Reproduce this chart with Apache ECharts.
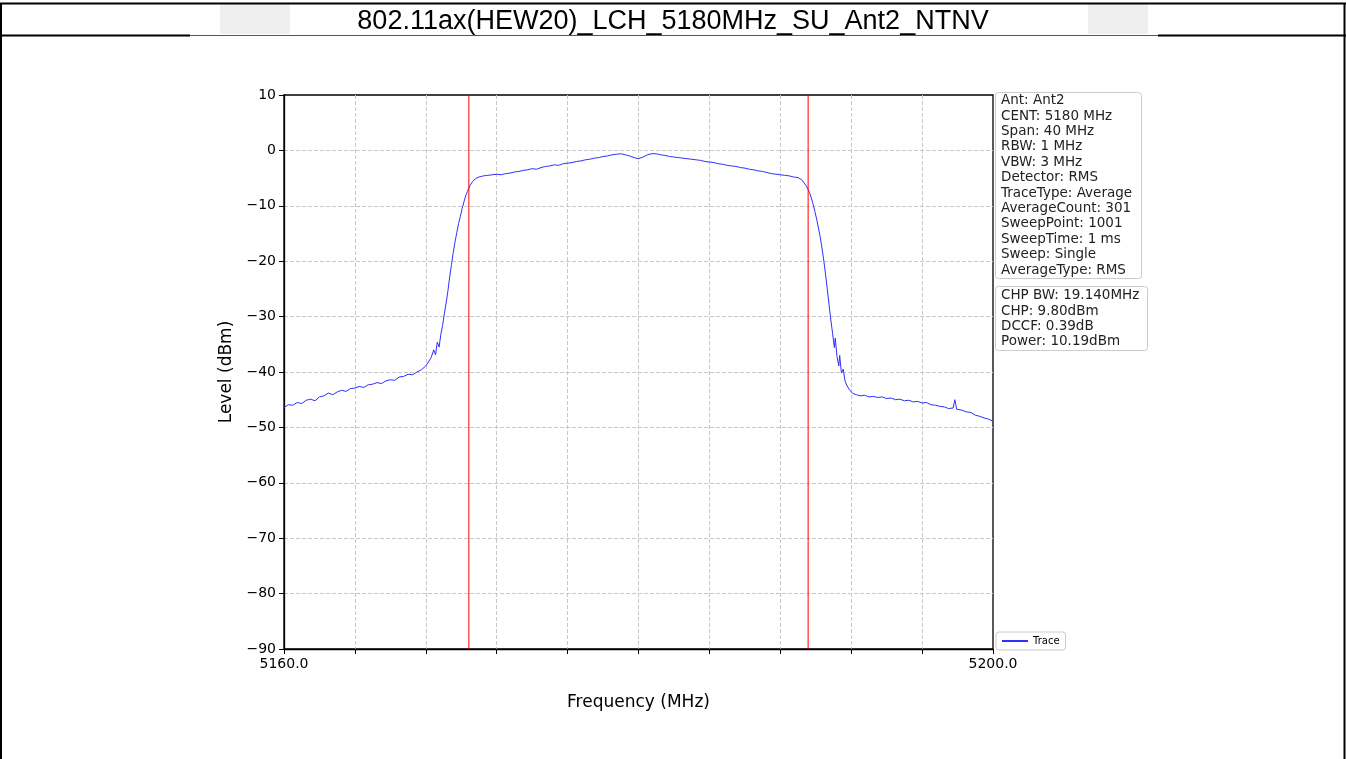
<!DOCTYPE html>
<html><head><meta charset="utf-8">
<script src="https://cdn.jsdelivr.net/npm/echarts@6/dist/echarts.min.js"></script>
<style>html,body{margin:0;padding:0;background:#fff;}#c{width:1346px;height:759px;}</style>
</head><body><div id="c"></div>
<script>
const titleText = '802.11ax(HEW20)_LCH_5180MHz_SU_Ant2_NTNV';
const xAxisName = 'Frequency (MHz)';
const yAxisName = 'Level (dBm)';
const legendName = 'Trace';
const freqMin = 5160, freqMax = 5200, freqStep = 4;
const levelMin = -90, levelMax = 10, levelStep = 10;
const freqLabelValues = [5160, 5200];
const channelEdges = [5170.43, 5189.57];
const settingLines = ['Ant: Ant2','CENT: 5180 MHz','Span: 40 MHz','RBW: 1 MHz','VBW: 3 MHz','Detector: RMS','TraceType: Average','AverageCount: 301','SweepPoint: 1001','SweepTime: 1 ms','Sweep: Single','AverageType: RMS'];
const powerLines = ['CHP BW: 19.140MHz','CHP: 9.80dBm','DCCF: 0.39dB','Power: 10.19dBm'];
const tracePoints = [
[5160.00,-46.4],[5160.25,-45.9],[5160.50,-46.0],[5160.75,-45.5],[5161.00,-45.7],[5161.25,-45.1],[5161.50,-44.9],[5161.75,-45.2],
[5162.00,-44.5],[5162.25,-44.3],[5162.50,-43.8],[5162.75,-44.1],[5163.00,-43.6],[5163.25,-43.3],[5163.50,-43.5],[5163.75,-43.0],
[5164.00,-42.9],[5164.25,-42.6],[5164.50,-42.8],[5164.75,-42.3],[5165.00,-42.2],[5165.25,-41.9],[5165.50,-42.1],[5165.75,-41.6],
[5166.00,-41.4],[5166.25,-41.5],[5166.50,-40.9],[5166.75,-40.8],[5167.00,-40.4],[5167.25,-40.5],[5167.50,-40.0],[5167.75,-39.6],
[5168.00,-38.9],[5168.15,-38.2],[5168.30,-37.4],[5168.45,-36.0],[5168.55,-36.9],[5168.65,-34.6],[5168.75,-35.5],[5168.85,-33.2],
[5168.95,-31.6],[5169.05,-29.4],[5169.15,-27.5],[5169.25,-25.3],[5169.35,-22.8],[5169.45,-20.6],[5169.55,-18.4],[5169.65,-16.5],
[5169.75,-14.8],[5169.85,-13.2],[5169.95,-11.9],[5170.05,-10.5],[5170.15,-9.3],[5170.25,-8.2],[5170.35,-7.4],[5170.50,-6.3],
[5170.65,-5.6],[5170.80,-5.1],[5171.00,-4.8],[5171.25,-4.6],[5171.50,-4.5],[5171.75,-4.4],
[5172.00,-4.3],[5172.25,-4.4],[5172.50,-4.2],[5172.75,-4.1],[5173.00,-3.9],[5173.25,-3.8],[5173.50,-3.6],[5173.75,-3.5],
[5174.00,-3.3],[5174.25,-3.4],[5174.50,-3.1],[5174.75,-2.9],[5175.00,-2.8],[5175.25,-2.6],[5175.50,-2.7],[5175.75,-2.4],
[5176.00,-2.3],[5176.25,-2.2],[5176.50,-2.0],[5176.75,-1.9],[5177.00,-1.7],[5177.25,-1.6],[5177.50,-1.4],[5177.75,-1.3],
[5178.00,-1.1],[5178.25,-1.0],[5178.50,-0.8],[5178.75,-0.7],[5179.00,-0.6],[5179.25,-0.8],[5179.50,-1.0],[5179.75,-1.3],
[5180.00,-1.5],[5180.25,-1.2],[5180.50,-0.8],[5180.75,-0.6],[5181.00,-0.6],[5181.25,-0.8],[5181.50,-0.9],[5181.75,-1.1],
[5182.00,-1.2],[5182.25,-1.3],[5182.50,-1.4],[5182.75,-1.5],[5183.00,-1.6],[5183.25,-1.7],[5183.50,-1.8],[5183.75,-2.0],
[5184.00,-2.1],[5184.25,-2.2],[5184.50,-2.4],[5184.75,-2.5],[5185.00,-2.7],[5185.25,-2.8],[5185.50,-2.9],[5185.75,-3.1],
[5186.00,-3.2],[5186.25,-3.4],[5186.50,-3.5],[5186.75,-3.7],[5187.00,-3.8],[5187.25,-4.0],[5187.50,-4.2],[5187.75,-4.3],
[5188.00,-4.4],[5188.25,-4.5],[5188.50,-4.6],[5188.75,-4.8],[5189.00,-4.9],[5189.20,-5.3],[5189.35,-5.9],[5189.50,-6.6],
[5189.65,-7.6],[5189.75,-8.6],[5189.85,-9.7],[5189.95,-11.0],[5190.05,-12.4],[5190.15,-14.0],[5190.25,-15.6],[5190.35,-17.6],
[5190.45,-19.8],[5190.55,-22.3],[5190.65,-25.0],[5190.75,-27.8],[5190.85,-30.6],[5190.95,-33.0],[5191.05,-35.6],[5191.10,-33.9],
[5191.20,-37.2],[5191.30,-38.9],[5191.35,-37.0],[5191.45,-40.2],[5191.55,-39.5],[5191.65,-41.6],[5191.75,-42.4],[5191.90,-43.2],
[5192.10,-43.9],[5192.30,-44.1],[5192.50,-44.3],[5192.75,-44.2],[5193.00,-44.5],[5193.25,-44.4],[5193.50,-44.6],[5193.75,-44.5],
[5194.00,-44.8],[5194.25,-44.7],[5194.50,-45.0],[5194.75,-44.9],[5195.00,-45.2],[5195.25,-45.1],[5195.50,-45.4],[5195.75,-45.3],
[5196.00,-45.6],[5196.25,-45.5],[5196.50,-45.9],[5196.75,-46.0],[5197.00,-46.2],[5197.25,-46.3],[5197.50,-46.6],[5197.75,-46.5],
[5197.85,-45.0],[5197.95,-46.7],[5198.25,-46.9],[5198.50,-47.2],[5198.75,-47.3],[5199.00,-47.8],[5199.25,-48.0],[5199.50,-48.3],
[5199.75,-48.5],[5200.00,-48.9]
];

const chart = echarts.init(document.getElementById('c'), null, {renderer: 'canvas'});
const tickFont = 'DejaVu Sans';
const gridLineStyle = {color: '#c8c8c8', type: [4, 2], width: 1};
const edgeSeries = channelEdges.map((edge, i) => ({
  name: 'edge' + i, type: 'line', data: [[edge, levelMin], [edge, levelMax]],
  showSymbol: false, symbol: 'none', silent: true, z: 3,
  lineStyle: {color: '#ff0000', width: 1, type: 'solid'}, itemStyle: {color: '#ff0000'}
}));
const option = {
  animation: false,
  backgroundColor: '#fff',
  title: {
    text: titleText, left: 'center', top: 3,
    textStyle: {fontFamily: 'Liberation Sans', fontSize: 27, fontWeight: 'normal', color: '#000'}
  },
  legend: {
    data: [{name: legendName, icon: 'rect'}],
    left: 996, top: 632, orient: 'vertical',
    itemWidth: 26, itemHeight: 2, padding: [4, 6, 4, 6],
    borderColor: '#cccccc', borderWidth: 1, borderRadius: 3, backgroundColor: '#fff',
    textStyle: {fontFamily: tickFont, fontSize: 10, color: '#000'}
  },
  grid: {left: 284, right: 353, top: 95, bottom: 110, show: true, borderColor: '#000', borderWidth: 1.3, containLabel: false},
  xAxis: {
    type: 'value', min: freqMin, max: freqMax, interval: freqStep,
    name: xAxisName, nameLocation: 'middle', nameGap: 45,
    nameTextStyle: {fontFamily: tickFont, fontSize: 17, color: '#000'},
    axisLine: {show: true, onZero: false, lineStyle: {color: '#000', width: 1.3}},
    axisTick: {show: true, length: 5, lineStyle: {color: '#000', width: 1}},
    axisLabel: {
      show: true, margin: 8, fontFamily: tickFont, fontSize: 14, color: '#000',
      showMinLabel: true, showMaxLabel: true,
      formatter: v => freqLabelValues.some(f => Math.abs(f - v) < 1e-6) ? v.toFixed(1) : ''
    },
    splitLine: {show: true, showMinLine: false, showMaxLine: false, lineStyle: gridLineStyle}
  },
  yAxis: {
    type: 'value', min: levelMin, max: levelMax, interval: levelStep,
    name: yAxisName, nameLocation: 'middle', nameGap: 49, nameRotate: 90,
    nameTextStyle: {fontFamily: tickFont, fontSize: 17, color: '#000'},
    axisLine: {show: true, onZero: false, lineStyle: {color: '#000', width: 1.3}},
    axisTick: {show: true, length: 5, lineStyle: {color: '#000', width: 1}},
    axisLabel: {
      margin: 8, fontFamily: tickFont, fontSize: 14, color: '#000',
      formatter: v => String(v).replace('-', '\u2212')
    },
    splitLine: {show: true, showMinLine: false, showMaxLine: false, lineStyle: gridLineStyle}
  },
  series: [{
    name: legendName, type: 'line', data: tracePoints, showSymbol: false, symbol: 'none', z: 2,
    lineStyle: {color: '#3030ff', width: 1}, itemStyle: {color: '#3030ff'}
  }].concat(edgeSeries),
  graphic: [
    {type: 'rect', shape: {x: 220, y: 4, width: 70, height: 30}, style: {fill: '#efefef'}, z: -1},
    {type: 'rect', shape: {x: 1088, y: 4, width: 60, height: 30}, style: {fill: '#efefef'}, z: -1},
    {type: 'line', shape: {x1: 0, y1: 3.5, x2: 1346, y2: 3.5}, style: {stroke: '#000', lineWidth: 2}},
    {type: 'line', shape: {x1: 0, y1: 35.5, x2: 190, y2: 35.5}, style: {stroke: '#000', lineWidth: 2}},
    {type: 'line', shape: {x1: 190, y1: 35.5, x2: 1158, y2: 35.5}, style: {stroke: '#555', lineWidth: 1}},
    {type: 'line', shape: {x1: 1158, y1: 35.5, x2: 1346, y2: 35.5}, style: {stroke: '#000', lineWidth: 2}},
    {type: 'line', shape: {x1: 1, y1: 3, x2: 1, y2: 759}, style: {stroke: '#000', lineWidth: 2}},
    {type: 'line', shape: {x1: 1344.5, y1: 3, x2: 1344.5, y2: 759}, style: {stroke: '#000', lineWidth: 2}},
    {type: 'rect', shape: {x: 995.5, y: 92.5, width: 146, height: 186, r: 3}, style: {fill: '#fff', stroke: '#cccccc', lineWidth: 1}},
    {type: 'text', x: 1001, y: 93, style: {text: settingLines.join('\n'), fontFamily: tickFont, fontSize: 13.5, lineHeight: 15.4, fill: '#222', verticalAlign: 'top'}},
    {type: 'rect', shape: {x: 995.5, y: 286.5, width: 152, height: 64, r: 3}, style: {fill: '#fff', stroke: '#cccccc', lineWidth: 1}},
    {type: 'text', x: 1001, y: 288, style: {text: powerLines.join('\n'), fontFamily: tickFont, fontSize: 13.5, lineHeight: 15.4, fill: '#222', verticalAlign: 'top'}}
  ]
};
chart.setOption(option);
</script>
</body></html>
